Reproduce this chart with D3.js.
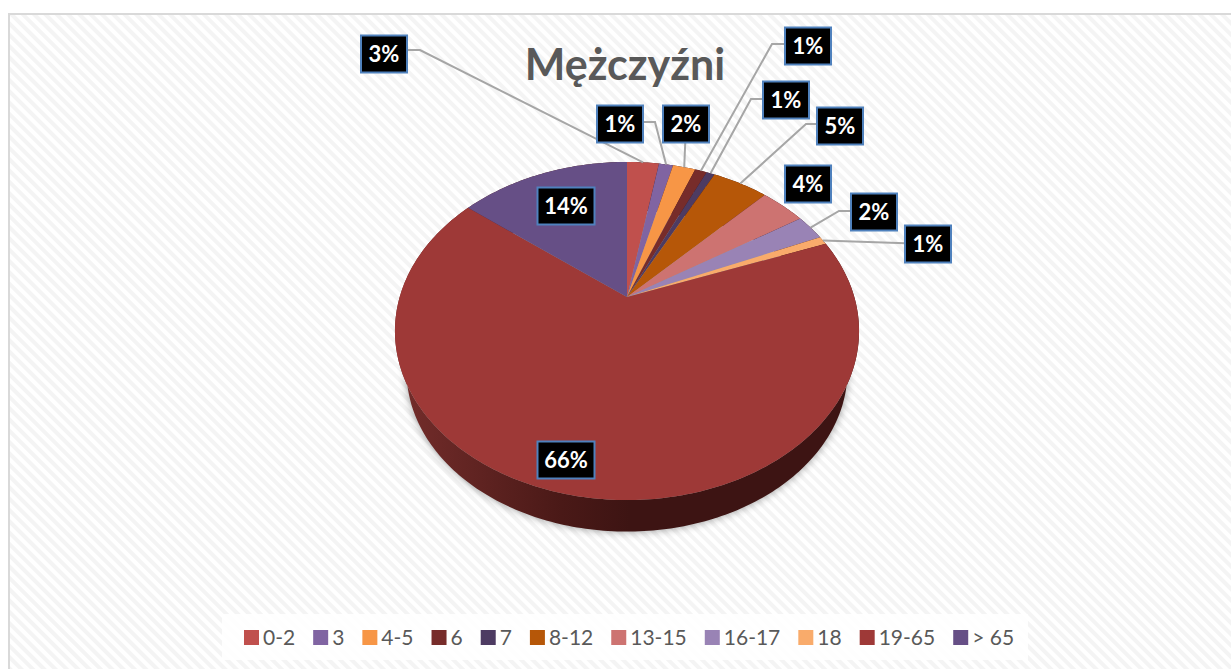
<!DOCTYPE html>
<html>
<head>
<meta charset="utf-8">
<script src="https://cdnjs.cloudflare.com/ajax/libs/d3/7.8.5/d3.min.js"></script>
<style>
  body { margin: 0; background: #fff; }
  svg { display: block; }
  text { font-family: Lato, "Open Sans", sans-serif; }
</style>
</head>
<body>
<svg width="1231" height="669"></svg>
<script>
var title = "Mężczyźni"
var categories = ["0-2", "3", "4-5", "6", "7", "8-12", "13-15", "16-17", "18", "19-65", "> 65"]
var shares = [2.7, 1.2, 1.9, 1.0, 0.7, 4.7, 3.8, 2.49, 0.8, 66.3, 14.4]
var colours = ["#c0504d", "#8064a2", "#f79646", "#772c2a", "#4d3b62", "#b65708", "#cd7371", "#9983b5", "#f9ab6b", "#9e3937", "#664f86"]

// label layout: box centre, then the leader elbow (null = no leader)
var labelCentres = [[384, 54], [620, 124], [686, 124], [808, 46], [786, 100], [840, 126], [808, 184], [874, 212], [928, 244], [566, 460], [566, 206]]
var labelElbows = [[420, 50], [655, 122], null, [772, 44], [751, 99], [806, 124], null, [839, 211], null, null, null]

var svg = d3.select("svg")
var defs = svg.append("defs")

// faint diagonal background
var pattern = defs.append("pattern")
    .attr("id", "stripes")
    .attr("width", 8)
    .attr("height", 8)
    .attr("patternUnits", "userSpaceOnUse")
    .attr("patternTransform", "rotate(45)")
pattern.append("rect").attr("width", 8).attr("height", 8).attr("fill", "#fff")
pattern.append("rect").attr("width", 8).attr("height", 4).attr("fill", "#f4f4f4")

var sideGradient = defs.append("linearGradient")
    .attr("id", "side")
    .attr("gradientUnits", "userSpaceOnUse")
    .attr("x1", 400).attr("x2", 860).attr("y1", 0).attr("y2", 0)
sideGradient.append("stop").attr("offset", "0%").attr("stop-color", "#742d2b")
sideGradient.append("stop").attr("offset", "35%").attr("stop-color", "#4a1917")
sideGradient.append("stop").attr("offset", "50%").attr("stop-color", "#3d1413")
sideGradient.append("stop").attr("offset", "100%").attr("stop-color", "#3d1413")

var blur = defs.append("filter")
    .attr("id", "shadow")
    .attr("x", "-10%").attr("y", "-10%").attr("width", "120%").attr("height", "120%")
blur.append("feGaussianBlur").attr("stdDeviation", 4)

svg.append("rect")
    .attr("x", 9).attr("y", 14)
    .attr("width", 1240).attr("height", 680)
    .attr("fill", "url(#stripes)")
    .attr("stroke", "#d9d9d9")
    .attr("stroke-width", 2)

// tilted pie: a circle seen in perspective
var cx = 627, apexY = 297, tilt = 0.2012, scaleY = 162.2, scaleX = 227.3
var ellipseY = 331, depth = 40, shrink = 0.95

function project(angle) {
    var u = Math.sin(angle), v = Math.cos(angle), w = 1 + tilt * v
    return [cx + scaleX * u / w, apexY - scaleY * v / w]
}

function lower(p) {
    return [cx + (p[0] - cx) * shrink, ellipseY + (p[1] - ellipseY) * shrink + depth]
}

function rim(d) {
    var n = Math.max(2, Math.ceil((d.endAngle - d.startAngle) * 60))
    return d3.range(n + 1).map(function (i) {
        return project(d.startAngle + (d.endAngle - d.startAngle) * i / n)
    })
}

var colour = d3.scaleOrdinal().domain(categories).range(colours)
var total = d3.sum(shares)

var slices = d3.pie().sort(null).value(function (d) {
    return d.share
})(categories.map(function (c, i) {
    return { name: c, share: shares[i], index: i }
}))

var line = d3.line()

function sidePath(d) {
    var top = rim(d)
    return line(top.concat(top.map(lower).reverse())) + "Z"
}

var all = { startAngle: 0, endAngle: 2 * Math.PI }

svg.append("path")
    .attr("d", line(rim(all).map(lower)) + "Z")
    .attr("fill", "#000")
    .attr("opacity", 0.4)
    .attr("filter", "url(#shadow)")

svg.append("g").selectAll("path")
    .data(slices)
    .enter().append("path")
    .attr("d", sidePath)
    .attr("fill", "url(#side)")

svg.append("g").selectAll("path")
    .data(slices)
    .enter().append("path")
    .attr("d", function (d) {
        return line([[cx, apexY]].concat(rim(d))) + "Z"
    })
    .attr("fill", function (d) {
        return colour(d.data.name)
    })

// leaders run from the slice rim to the elbow and into the box
svg.append("g").selectAll("path")
    .data(slices.filter(function (d) {
        return labelElbows[d.index] !== null || d.data.name === "4-5" || d.data.name === "18"
    }))
    .enter().append("path")
    .attr("d", function (d) {
        var mid = project((d.startAngle + d.endAngle) / 2)
        var box = labelCentres[d.index]
        var elbow = labelElbows[d.index]
        return elbow ? line([mid, elbow, [box[0], elbow[1]]]) : line([mid, box])
    })
    .attr("fill", "none")
    .attr("stroke", "#a6a6a6")
    .attr("stroke-width", 2)

var labels = svg.append("g").selectAll("g")
    .data(slices)
    .enter().append("g")
    .attr("transform", function (d) {
        return "translate(" + labelCentres[d.index] + ")"
    })

function labelText(d) {
    return Math.round(d.data.share / total * 100) + "%"
}

labels.append("rect")
    .attr("x", function (d) {
        return labelText(d).length > 2 ? -28.5 : -23
    })
    .attr("y", -18.5)
    .attr("width", function (d) {
        return labelText(d).length > 2 ? 57 : 46
    })
    .attr("height", 37)
    .attr("fill", "#000")
    .attr("stroke", "#4f81bd")
    .attr("stroke-width", 2)

labels.append("text")
    .attr("text-anchor", "middle")
    .attr("y", 8)
    .attr("fill", "#fff")
    .attr("font-size", 22)
    .attr("font-weight", 700)
    .text(labelText)

svg.append("text")
    .attr("x", 625)
    .attr("y", 80)
    .attr("text-anchor", "middle")
    .attr("fill", "#595959")
    .attr("font-size", 43)
    .attr("font-weight", 700)
    .text(title)

// legend
svg.append("rect")
    .attr("x", 222).attr("y", 614)
    .attr("width", 806).attr("height", 46)
    .attr("fill", "#fff")
    .attr("opacity", 0.85)

var legend = svg.append("g").selectAll("g")
    .data(categories)
    .enter().append("g")

legend.append("rect")
    .attr("y", 630)
    .attr("width", 15)
    .attr("height", 15)
    .attr("fill", function (d) {
        return colour(d)
    })

legend.append("text")
    .attr("x", 19)
    .attr("y", 645)
    .attr("fill", "#595959")
    .attr("font-size", 21)
    .text(function (d) {
        return d
    })

var legendX = 244
legend.each(function () {
    var g = d3.select(this)
    g.attr("transform", "translate(" + legendX + ",0)")
    legendX += 19 + g.select("text").node().getComputedTextLength() + 18
})
</script>
</body>
</html>
